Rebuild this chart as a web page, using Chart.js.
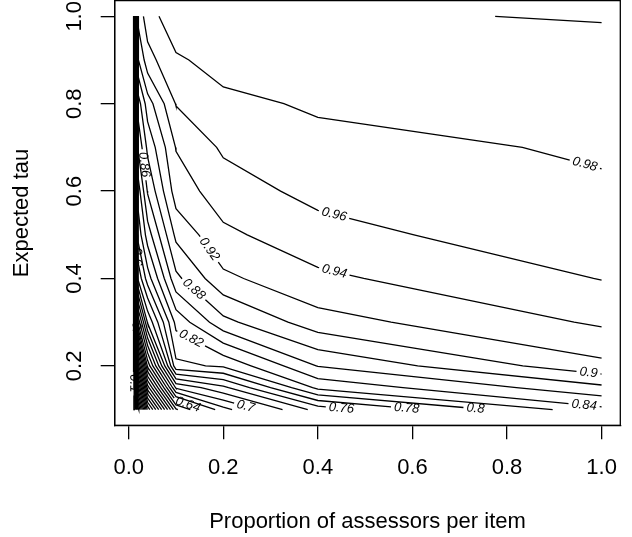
<!DOCTYPE html>
<html>
<head>
<meta charset="utf-8">
<script src="https://cdn.jsdelivr.net/npm/chart.js"></script>
<style>
  html, body { margin: 0; padding: 0; background: #fff; }
</style>
</head>
<body>
<canvas id="contourChart" width="632" height="537"></canvas>
<script>
// grid the surface was sampled on
const propGrid = [0.01, 0.02, 0.04, 0.1, 0.2, 0.4, 1.0]
const tauGrid = [0.1, 0.15, 0.2, 0.3, 0.4, 0.5, 0.6, 0.7, 0.8, 0.9, 1.0]

// surface value down each column of propGrid, tau 0.1 -> 1.0
const zAt001 = [0.06, 0.07, 0.07, 0.08, 0.08, 0.085, 0.085, 0.09, 0.09, 0.09, 0.09]
const zAt002 = [0.25, 0.35, 0.45, 0.625, 0.745, 0.787, 0.81, 0.843, 0.87, 0.918, 0.947]
const zAt004 = [0.405, 0.51, 0.605, 0.723, 0.79, 0.83, 0.862, 0.885, 0.9105, 0.9526, 0.9703]
const zAt01 = [0.597, 0.703, 0.795, 0.826, 0.875, 0.905, 0.93, 0.941, 0.961, 0.977, 0.9945]
const zAt02 = [0.673, 0.735, 0.803, 0.874, 0.9156, 0.936, 0.95, 0.9631, 0.975, 0.988, 0.996]
const zAt04 = [0.748, 0.825, 0.861, 0.912, 0.936, 0.9518, 0.9665, 0.9738, 0.9828, 0.9906, 0.9985]
const zAt1 = [0.835, 0.875, 0.915, 0.943, 0.9607, 0.976, 0.9775, 0.9824, 0.987, 0.9947, 1.0009]
const zColumns = [zAt001, zAt002, zAt004, zAt01, zAt02, zAt04, zAt1]

const levels = [0.1, 0.12, 0.14, 0.16, 0.18, 0.2, 0.22, 0.24, 0.26, 0.28, 0.3, 0.32, 0.34, 0.36,
  0.38, 0.4, 0.42, 0.44, 0.46, 0.48, 0.5, 0.52, 0.54, 0.56, 0.58, 0.6, 0.62, 0.64, 0.66, 0.68,
  0.7, 0.72, 0.74, 0.76, 0.78, 0.8, 0.82, 0.84, 0.86, 0.88, 0.9, 0.92, 0.94, 0.96, 0.98, 1.0]

const xTicks = [0, 0.2, 0.4, 0.6, 0.8, 1.0]
const yTicks = [0.2, 0.4, 0.6, 0.8, 1.0]

// where the contour labels sit: [level, near x, near y]
const labelSpots = [
  [0.98, 0.965, 0.663], [0.96, 0.433, 0.541], [0.94, 0.433, 0.408], [0.92, 0.168, 0.465],
  [0.9, 0.972, 0.181], [0.88, 0.135, 0.372], [0.84, 0.963, 0.11], [0.82, 0.131, 0.26],
  [0.8, 0.744, 0.099], [0.78, 0.602, 0.102], [0.76, 0.466, 0.1], [0.7, 0.269, 0.105],
  [0.64, 0.152, 0.114], [0.1, 0.011, 0.16], [0.4, 0.012, 0.28], [0.6, 0.013, 0.45],
  [0.86, 0.03, 0.66]
]

const labelFont = 'italic 13px "Liberation Sans", Arial, sans-serif'
const axisFont = { family: '"Liberation Sans", Arial, sans-serif', size: 22 }

// marching squares over the grid, linear interpolation on the cell edges
function traceLevel(level) {
  const pts = {}, links = {}
  const z = (i, j) => zColumns[i][j]
  function cross(key, i1, j1, i2, j2) {
    const a = z(i1, j1), b = z(i2, j2)
    if ((a - level) * (b - level) >= 0) return null
    if (!pts[key]) {
      const t = (level - a) / (b - a)
      pts[key] = {
        x: propGrid[i1] + t * (propGrid[i2] - propGrid[i1]),
        y: tauGrid[j1] + t * (tauGrid[j2] - tauGrid[j1])
      }
    }
    return key
  }
  function link(a, b) {
    (links[a] = links[a] || []).push(b);
    (links[b] = links[b] || []).push(a)
  }
  for (let i = 0; i < propGrid.length - 1; i++) {
    for (let j = 0; j < tauGrid.length - 1; j++) {
      const e = [
        cross('h' + i + '_' + j, i, j, i + 1, j),
        cross('v' + (i + 1) + '_' + j, i + 1, j, i + 1, j + 1),
        cross('h' + i + '_' + (j + 1), i, j + 1, i + 1, j + 1),
        cross('v' + i + '_' + j, i, j, i, j + 1)
      ]
      const hit = e.filter(k => k)
      if (hit.length === 2) link(hit[0], hit[1])
      else if (hit.length === 4) {
        const mid = (z(i, j) + z(i + 1, j) + z(i, j + 1) + z(i + 1, j + 1)) / 4
        if ((mid > level) === (z(i, j) > level)) { link(e[0], e[1]); link(e[2], e[3]) }
        else { link(e[0], e[3]); link(e[1], e[2]) }
      }
    }
  }
  const keys = Object.keys(links)
  const starts = keys.filter(k => links[k].length === 1).concat(keys)
  const used = new Set()
  const lines = []
  starts.forEach(s => {
    if (used.has(s)) return
    const chain = [s]
    used.add(s)
    let cur = s
    while (true) {
      const next = links[cur].find(k => !used.has(k))
      if (!next) break
      chain.push(next)
      used.add(next)
      cur = next
    }
    if (chain.length > 2 && links[cur].includes(s)) chain.push(s)
    lines.push(chain.map(k => pts[k]))
  })
  return lines
}

const contourLabels = []

const decorPlugin = {
  id: 'decor',
  afterDatasetsDraw(chart) {
    const { ctx, chartArea, scales } = chart
    ctx.save()
    ctx.strokeStyle = '#000'
    ctx.lineWidth = 1.3
    ctx.strokeRect(chartArea.left, chartArea.top, chartArea.right - chartArea.left, chartArea.bottom - chartArea.top)
    ctx.font = labelFont
    ctx.fillStyle = '#000'
    ctx.textAlign = 'center'
    ctx.textBaseline = 'middle'
    contourLabels.forEach(l => {
      ctx.save()
      ctx.translate(scales.x.getPixelForValue(l.x), scales.y.getPixelForValue(l.y))
      ctx.rotate(l.angle)
      ctx.fillText(l.text, 0, 0)
      ctx.restore()
    })
    ctx.restore()
  }
}

const ctx = document.getElementById('contourChart').getContext('2d')

const chart = new Chart(ctx, {
  type: 'scatter',
  data: { datasets: [] },
  options: {
    responsive: false,
    animation: false,
    events: [],
    layout: { padding: { left: 0, right: 11.7, top: 0.6, bottom: 0 } },
    plugins: { legend: { display: false }, tooltip: { enabled: false } },
    scales: {
      x: {
        type: 'linear',
        min: -0.0296,
        max: 1.0396,
        afterBuildTicks: s => { s.ticks = xTicks.map(v => ({ value: v })) },
        afterFit: s => { s.height = 111.7; s.paddingLeft = 0; s.paddingRight = 0 },
        grid: { drawOnChartArea: false, color: '#000', lineWidth: 1.3, tickLength: 14 },
        border: { color: '#000', width: 1.3 },
        ticks: {
          color: '#000', font: axisFont, padding: 15.5, maxRotation: 0, autoSkip: false,
          callback: v => v.toFixed(1)
        },
        title: {
          display: true, text: 'Proportion of assessors per item', color: '#000',
          font: axisFont, padding: { top: 0, bottom: 1.8 }
        }
      },
      y: {
        type: 'linear',
        min: 0.064,
        max: 1.036,
        afterBuildTicks: s => { s.ticks = yTicks.map(v => ({ value: v })) },
        afterFit: s => { s.width = 114.7; s.paddingTop = 0; s.paddingBottom = 0 },
        grid: { drawOnChartArea: false, color: '#000', lineWidth: 1.3, tickLength: 14 },
        border: { color: '#000', width: 1.3 },
        ticks: {
          color: '#000', font: axisFont, padding: 10.2, minRotation: 90, maxRotation: 90,
          crossAlign: 'center', autoSkip: false,
          callback: v => v.toFixed(1)
        },
        title: {
          display: true, text: 'Expected tau', color: '#000',
          font: axisFont, padding: { top: 8.5, bottom: 0 }
        }
      }
    }
  },
  plugins: [decorPlugin]
})

// place labels along the lines (R style: gap in the line, text follows the slope)
const xs = chart.scales.x, ys = chart.scales.y

function withArc(pts) {
  const px = pts.map(p => [xs.getPixelForValue(p.x), ys.getPixelForValue(p.y)])
  const cum = [0]
  for (let k = 1; k < px.length; k++) {
    cum.push(cum[k - 1] + Math.hypot(px[k][0] - px[k - 1][0], px[k][1] - px[k - 1][1]))
  }
  return { pts, px, cum, cuts: [] }
}

function at(line, s) {
  const { pts, px, cum } = line
  let k = 1
  while (k < cum.length - 1 && cum[k] < s) k++
  const seg = cum[k] - cum[k - 1]
  const t = seg > 0 ? Math.min(1, Math.max(0, (s - cum[k - 1]) / seg)) : 0
  return {
    x: pts[k - 1].x + t * (pts[k].x - pts[k - 1].x),
    y: pts[k - 1].y + t * (pts[k].y - pts[k - 1].y),
    px: px[k - 1][0] + t * (px[k][0] - px[k - 1][0]),
    py: px[k - 1][1] + t * (px[k][1] - px[k - 1][1])
  }
}

function project(line, ax, ay) {
  let best = { d: Infinity, s: 0 }
  for (let k = 1; k < line.px.length; k++) {
    const [x1, y1] = line.px[k - 1], [x2, y2] = line.px[k]
    const dx = x2 - x1, dy = y2 - y1
    const len2 = dx * dx + dy * dy || 1
    let t = ((ax - x1) * dx + (ay - y1) * dy) / len2
    t = Math.min(1, Math.max(0, t))
    const d = Math.hypot(x1 + t * dx - ax, y1 + t * dy - ay)
    if (d < best.d) best = { d, s: line.cum[k - 1] + t * (line.cum[k] - line.cum[k - 1]) }
  }
  return best
}

function slice(line, s0, s1) {
  const out = [at(line, s0)]
  line.cum.forEach((c, k) => { if (c > s0 && c < s1) out.push(line.pts[k]) })
  out.push(at(line, s1))
  return out.map(p => ({ x: p.x, y: p.y }))
}

const contours = levels.map(level => ({ level, lines: traceLevel(level).map(withArc) }))

ctx.save()
ctx.font = labelFont
labelSpots.forEach(([level, lx, ly]) => {
  const entry = contours.find(c => Math.abs(c.level - level) < 1e-9)
  if (!entry) return
  const ax = xs.getPixelForValue(lx), ay = ys.getPixelForValue(ly)
  let best = null
  entry.lines.forEach(line => {
    const p = project(line, ax, ay)
    if (!best || p.d < best.d) best = { line, d: p.d, s: p.s }
  })
  if (!best) return
  const text = String(+level.toFixed(2))
  const w = ctx.measureText(text).width
  const half = w / 2 + 3
  const total = best.line.cum[best.line.cum.length - 1]
  if (total < 2 * half) return
  const s0 = Math.min(total - half, Math.max(half, best.s))
  const a = at(best.line, s0 - w / 2), b = at(best.line, s0 + w / 2), c = at(best.line, s0)
  let angle = Math.atan2(b.py - a.py, b.px - a.px)
  if (angle > Math.PI / 2) angle -= Math.PI
  if (angle <= -Math.PI / 2) angle += Math.PI
  best.line.cuts.push([s0 - half, s0 + half])
  contourLabels.push({ text, x: c.x, y: c.y, angle })
})
ctx.restore()

const pieces = []
contours.forEach(c => {
  c.lines.forEach(line => {
    const total = line.cum[line.cum.length - 1]
    const cuts = line.cuts.slice().sort((p, q) => p[0] - q[0])
    let from = 0
    cuts.forEach(([s0, s1]) => {
      if (s0 - from > 0.5) pieces.push(slice(line, from, s0))
      from = s1
    })
    if (total - from > 0.5) pieces.push(slice(line, from, total))
  })
})

chart.data.datasets = pieces.map(p => ({
  data: p,
  showLine: true,
  borderColor: '#000',
  borderWidth: 1.3,
  pointRadius: 0,
  fill: false,
  tension: 0
}))
chart.update()
</script>
</body>
</html>
